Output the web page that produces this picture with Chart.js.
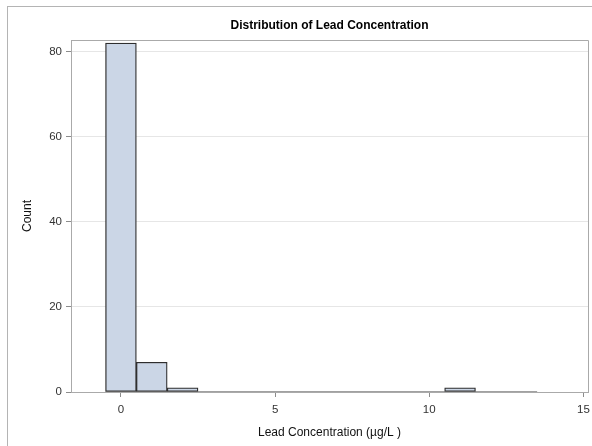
<!DOCTYPE html>
<html>
<head>
<meta charset="utf-8">
<script src="https://cdn.jsdelivr.net/npm/chart.js@4.4.1/dist/chart.umd.min.js"></script>
<style>
  body { margin: 0; background: #fff; overflow: hidden; }
  #frame { position: absolute; left: 7px; top: 6px; width: 620px; height: 480px; border: 1px solid #b4b4b4; }
  #chart1 { position: absolute; left: 0; top: 0; }
</style>
</head>
<body>
<div id="frame"></div>
<canvas id="chart1" width="592" height="446"></canvas>
<script>
// histogram bins (midpoints, width 1) and counts
const binMids = [0, 1, 2, 3, 4, 5, 6, 7, 8, 9, 10, 11, 12, 13];
const binCounts = [82, 7, 1, 0, 0, 0, 0, 0, 0, 0, 0, 1, 0, 0];
const binWidth = 1;

const xTicks = [0, 5, 10, 15];
const yTicks = [0, 20, 40, 60, 80];

const chartTitle = 'Distribution of Lead Concentration';
const xTitle = 'Lead Concentration (\u00b5g/L )';
const yTitle = 'Count';

const fontFamily = '"Liberation Sans", Arial, sans-serif';

function histData() {
  const bars = [];
  for (let i = 0; i < binMids.length; i++) {
    bars.push({ x: binMids[i], y: binCounts[i] });
  }
  return bars;
}

// baseline under the empty bins, first edge to last edge
const baseline = [
  { x: binMids[0] - binWidth / 2, y: 0 },
  { x: binMids[binMids.length - 1] + binWidth / 2, y: 0 }
];

const plotBox = {
  id: 'plotBox',
  beforeDatasetsDraw(chart) {
    const { ctx, chartArea: a } = chart;
    ctx.save();
    ctx.strokeStyle = '#aaaaaa';
    ctx.lineWidth = 1;
    ctx.beginPath();
    ctx.moveTo(Math.round(a.left) + 0.5, Math.round(a.bottom) + 0.5);
    ctx.lineTo(Math.round(a.left) + 0.5, Math.round(a.top) + 0.5);
    ctx.lineTo(Math.round(a.right) + 0.5, Math.round(a.top) + 0.5);
    ctx.lineTo(Math.round(a.right) + 0.5, Math.round(a.bottom) + 0.5);
    ctx.stroke();
    ctx.restore();
  },
  afterDraw(chart) {
    const { ctx, chartArea: a } = chart;
    ctx.save();
    ctx.font = 'bold 12px ' + fontFamily;
    ctx.fillStyle = '#000';
    ctx.textAlign = 'center';
    ctx.textBaseline = 'middle';
    ctx.fillText(chartTitle, (a.left + a.right) / 2, 25.5);
    ctx.restore();
  }
};

const chart = new Chart(document.getElementById('chart1'), {
  type: 'bar',
  data: {
    datasets: [{
      type: 'line',
      data: baseline,
      borderColor: '#444444',
      borderWidth: 1.2,
      pointRadius: 0,
      order: 2
    }, {
      data: histData(),
      backgroundColor: '#cbd6e6',
      borderColor: '#2e2e2e',
      borderWidth: 1.3,
      borderSkipped: false,
      barPercentage: 1,
      categoryPercentage: 1,
      order: 1
    }]
  },
  plugins: [plotBox],
  options: {
    responsive: false,
    animation: false,
    layout: { padding: { top: 40, right: 4, left: 0, bottom: 0 } },
    plugins: {
      legend: { display: false },
      tooltip: { enabled: false }
    },
    scales: {
      x: {
        type: 'linear',
        min: -1.62,
        max: 15.15,
        offset: false,
        afterFit: (scale) => {
          scale.height = 54;
          scale.paddingLeft = 0;
          scale.paddingRight = 0;
        },
        afterBuildTicks: (scale) => {
          scale.ticks = xTicks.map((v) => ({ value: v }));
        },
        grid: {
          offset: false,
          drawOnChartArea: false,
          drawTicks: true,
          tickLength: 5,
          tickColor: '#8c8c8c'
        },
        border: { color: '#aaaaaa' },
        ticks: {
          color: '#333',
          font: { family: fontFamily, size: 11.5 },
          padding: 6,
          maxRotation: 0
        },
        title: {
          display: true,
          text: xTitle,
          color: '#111',
          font: { family: fontFamily, size: 12 },
          padding: { top: 0, bottom: 6 }
        }
      },
      y: {
        min: 0,
        max: 82.7,
        afterFit: (scale) => {
          scale.width = 71;
          scale.paddingTop = 0;
          scale.paddingBottom = 0;
        },
        afterBuildTicks: (scale) => {
          scale.ticks = yTicks.map((v) => ({ value: v }));
        },
        grid: {
          color: '#e6e6e6',
          drawTicks: true,
          tickLength: 5,
          tickColor: '#8c8c8c'
        },
        border: { color: '#aaaaaa' },
        ticks: {
          color: '#333',
          font: { family: fontFamily, size: 11.5 },
          padding: 4
        },
        title: {
          display: true,
          text: yTitle,
          color: '#111',
          font: { family: fontFamily, size: 12 },
          padding: { top: 20, bottom: 0 }
        }
      }
    }
  }
});
</script>
</body>
</html>
